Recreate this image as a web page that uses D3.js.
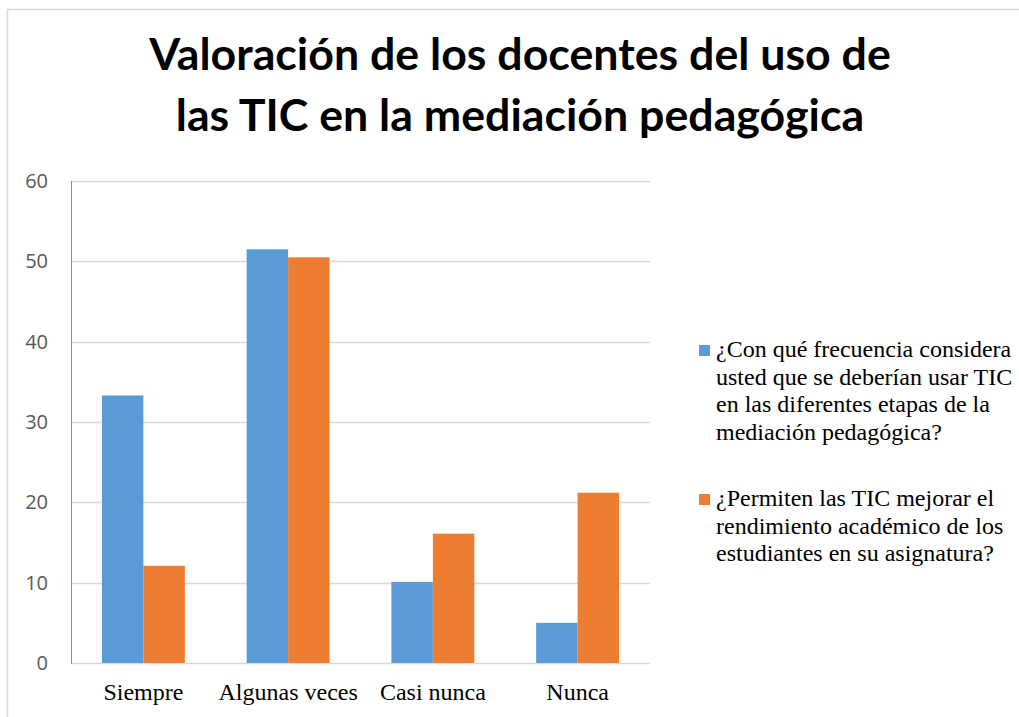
<!DOCTYPE html>
<html>
<head>
<meta charset="utf-8">
<script src="https://cdn.jsdelivr.net/npm/d3@7"></script>
<style>
  body { margin: 0; background: #fff; }
  svg { display: block; }
</style>
</head>
<body>
<div id="chart"></div>
<script>
// data
var categories = ["Siempre", "Algunas veces", "Casi nunca", "Nunca"];
var serieFrecuencia = [33.3, 51.5, 10.1, 5.0];
var serieRendimiento = [12.1, 50.5, 16.1, 21.2];
var yTicks = [0, 10, 20, 30, 40, 50, 60];
var seriesNames = ["frecuencia", "rendimiento"];
var legendLines = [
  ["¿Con qué frecuencia considera", "usted que se deberían usar TIC", "en las diferentes etapas de la", "mediación pedagógica?"],
  ["¿Permiten las TIC mejorar el", "rendimiento académico de los", "estudiantes en su asignatura?"]
];
var titleLines = ["Valoración de los docentes del uso de", "las TIC en la mediación pedagógica"];
var colors = ["#5B9BD5", "#ED7D31"];

var W = 1019, H = 717;
var svg = d3.select("#chart").append("svg").attr("width", W).attr("height", H);

// chart frame
svg.append("rect").attr("x", 7.5).attr("y", 9.5).attr("width", 1040).attr("height", 740)
  .attr("fill", "#fff").attr("stroke", "#D9D9D9").attr("stroke-width", 1.5);

var plot = {left: 71, right: 650, top: 181, bottom: 663};

var x0 = d3.scaleBand().domain(categories).range([plot.left, plot.right])
  .paddingInner(0.427).paddingOuter(0.2135);
var x1 = d3.scaleBand().domain(seriesNames).range([0, x0.bandwidth()]);
var y = d3.scaleLinear().domain([0, 60]).range([plot.bottom, plot.top]);

// gridlines
svg.append("g").selectAll("line").data(yTicks).enter().append("line")
  .attr("x1", plot.left).attr("x2", plot.right)
  .attr("y1", d => Math.round(y(d)) + 0.5).attr("y2", d => Math.round(y(d)) + 0.5)
  .attr("stroke", "#D9D9D9").attr("stroke-width", 1.5);

// y axis labels
var yAxis = d3.axisLeft(y).tickValues(yTicks).tickSize(0).tickPadding(23);
var yg = svg.append("g").attr("transform", "translate(" + plot.left + ",0)").call(yAxis);
yg.select(".domain").remove();
yg.selectAll("text").attr("font-family", "Open Sans").attr("font-size", 20).attr("fill", "#595959");

// bars
var rows = categories.map(function(c, i) {
  return {cat: c, vals: [serieFrecuencia[i], serieRendimiento[i]]};
});
var groups = svg.append("g").selectAll("g").data(rows).enter().append("g")
  .attr("transform", d => "translate(" + x0(d.cat) + ",0)");
groups.selectAll("rect").data(d => d.vals.map((v, j) => ({s: seriesNames[j], v: v, j: j})))
  .enter().append("rect")
  .attr("x", d => x1(d.s))
  .attr("y", d => y(d.v))
  .attr("width", x1.bandwidth())
  .attr("height", d => plot.bottom - y(d.v))
  .attr("fill", d => colors[d.j]);

// left axis line
svg.append("line").attr("x1", plot.left + 0.5).attr("x2", plot.left + 0.5)
  .attr("y1", plot.top).attr("y2", plot.bottom + 1)
  .attr("stroke", "#8C8C8C").attr("stroke-width", 1);

// x axis labels
var xAxis = d3.axisBottom(x0).tickSize(0).tickPadding(0);
var xg = svg.append("g").attr("transform", "translate(0," + plot.bottom + ")").call(xAxis);
xg.select(".domain").remove();
xg.selectAll("text").attr("font-family", "Liberation Serif").attr("font-size", 24)
  .attr("fill", "#000").attr("dy", null).attr("y", 37);

// title
var title = svg.append("g");
title.selectAll("text").data(titleLines).enter().append("text")
  .attr("x", 520).attr("y", (d, i) => 70 + i * 61)
  .attr("text-anchor", "middle")
  .attr("font-family", "Lato").attr("font-weight", 700)
  .attr("font-size", 40).attr("fill", "#000")
  .text(d => d);
// fit first line to the reference width
var t0 = title.select("text").node();
var w0 = t0.getComputedTextLength();
var fs = 40 * 742 / w0;
title.selectAll("text").attr("font-size", fs);

// legend
var legendTop = [357, 506];
var legend = svg.append("g");
legendLines.forEach(function(lines, i) {
  legend.append("rect").attr("x", 699).attr("y", legendTop[i] - 12)
    .attr("width", 11).attr("height", 11).attr("fill", colors[i]);
  legend.selectAll("text.s" + i).data(lines).enter().append("text")
    .attr("class", "s" + i)
    .attr("x", 716).attr("y", (d, k) => legendTop[i] + k * 27.5)
    .attr("font-family", "Liberation Serif").attr("font-size", 24).attr("fill", "#000")
    .text(d => d);
});
</script>
</body>
</html>
